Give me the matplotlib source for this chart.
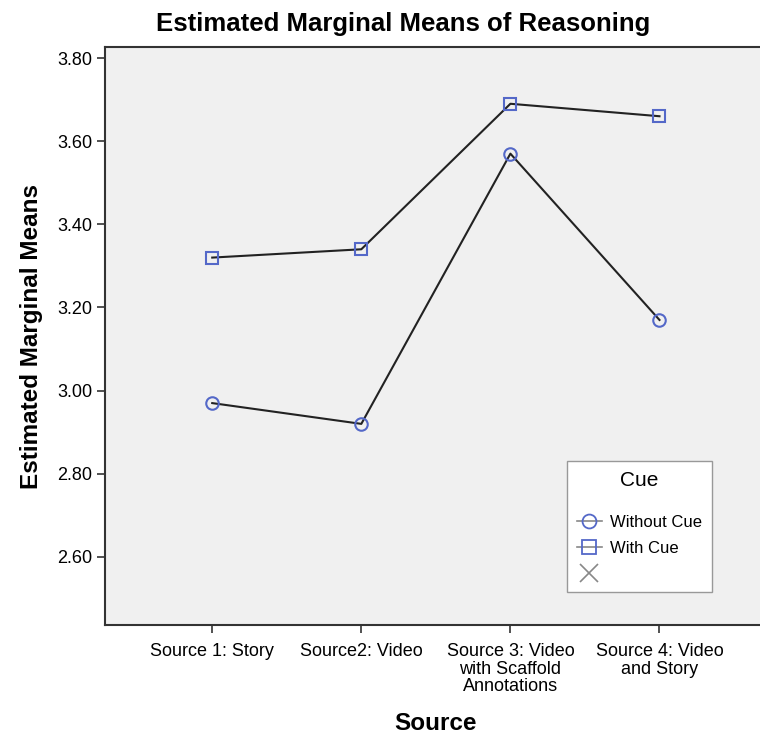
import matplotlib.pyplot as plt
from matplotlib.lines import Line2D

plt.rcParams['font.family'] = ['Liberation Sans', 'DejaVu Sans']

sources = ["Source 1: Story", "Source2: Video",
           "Source 3: Video\nwith Scaffold\nAnnotations",
           "Source 4: Video\nand Story"]
without_cue = [2.97, 2.92, 3.57, 3.17]
with_cue = [3.32, 3.34, 3.69, 3.66]
yticks = [2.60, 2.80, 3.00, 3.20, 3.40, 3.60, 3.80]

marker_col = "#5468c8"
x = list(range(len(sources)))

fig = plt.figure(figsize=(7.6, 7.38), dpi=100)
ax = fig.add_axes([0.138, 0.153, 0.871, 0.783])
ax.set_facecolor("#f0f0f0")

ax.plot(x, without_cue, color="#222222", lw=1.5, marker="o", ms=9,
        mfc="none", mec=marker_col, mew=1.5)
ax.plot(x, with_cue, color="#222222", lw=1.5, marker="s", ms=9,
        mfc="none", mec=marker_col, mew=1.5)

ax.set_xlim(-0.72, 3.72)
ax.set_ylim(2.436, 3.826)
ax.set_xticks(x)
ax.set_xticklabels(sources, fontsize=13, linespacing=1.05)
ax.set_yticks(yticks)
ax.set_yticklabels([f"{v:.2f}" for v in yticks], fontsize=13)
ax.tick_params(length=6, width=1.2, color="#333333")
ax.tick_params(axis="x", pad=7)
ax.tick_params(axis="y", pad=3)

for s in ax.spines.values():
    s.set_linewidth(1.5)
    s.set_color("#333333")

ax.set_title("Estimated Marginal Means of Reasoning", fontsize=18.5,
             fontweight="bold", pad=12, x=0.45)
ax.set_ylabel("Estimated Marginal Means", fontsize=17.5, fontweight="bold",
              labelpad=10)
ax.set_xlabel("Source", fontsize=17.5, fontweight="bold", labelpad=12)

handles = [
    Line2D([], [], color="#888888", lw=1.2, marker="o", ms=10, mfc="none",
           mec=marker_col, mew=1.3),
    Line2D([], [], color="#888888", lw=1.2, marker="s", ms=10, mfc="none",
           mec=marker_col, mew=1.3),
    Line2D([], [], color="#888888", lw=0, marker="x", ms=13, mew=1.2),
]
leg = ax.legend(handles, ["Without Cue", "With Cue", ""], title="Cue",
                loc="upper left", bbox_to_anchor=(0.698, 0.284),
                borderaxespad=0, fontsize=12, title_fontsize=15,
                fancybox=False, edgecolor="#999999", framealpha=1,
                handlelength=1.5, borderpad=0.6, labelspacing=0.65,
                handletextpad=0.5)
leg.get_frame().set_linewidth(1.0)
leg._legend_box.sep = 18

fig.savefig("out.png", dpi=100, facecolor="white")
